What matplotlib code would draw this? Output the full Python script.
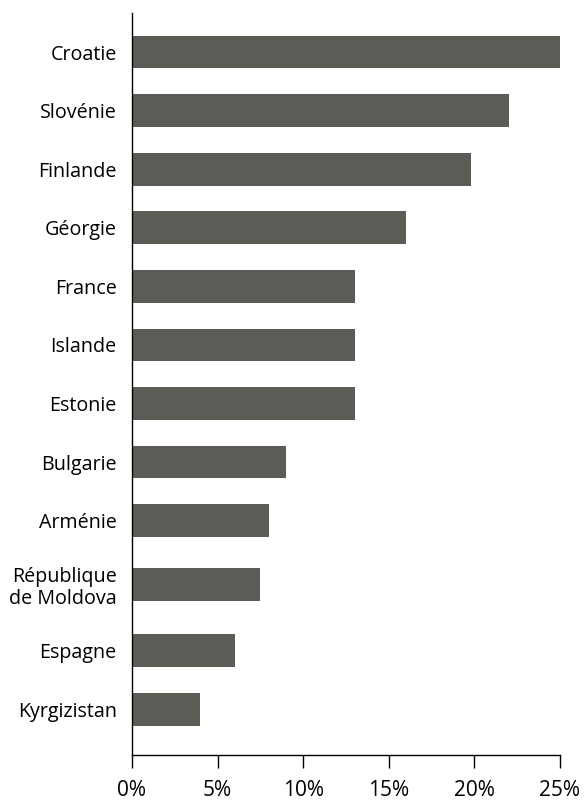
#!/usr/bin/env python3

import matplotlib
matplotlib.use('Agg')
import matplotlib.pyplot as plt
from matplotlib.ticker import FuncFormatter

countries = ['Croatie', 'Slovénie', 'Finlande', 'Géorgie', 'France', 'Islande',
             'Estonie', 'Bulgarie', 'Arménie', 'République\nde Moldova',
             'Espagne', 'Kyrgizistan']
values = [25, 22, 19.8, 16, 13, 13, 13, 9, 8, 7.5, 6, 4]
xticks = [0, 5, 10, 15, 20, 25]

# the two-line label gets a little more room than the other rows
row_gaps = [1, 1, 1, 1, 1, 1, 1, 1, 1.09, 1.13, 1.01]

plt.rcParams['font.family'] = ['Open Sans', 'DejaVu Sans']

fig = plt.figure(figsize=(5.84, 8.0), dpi=100)
ax = fig.add_axes([132 / 584, 45 / 800, 428 / 584, 742 / 800])

pos = [0]
for g in row_gaps:
    pos.append(pos[-1] + g)
ax.barh(pos, values, height=0.56, color='#5c5c57')

ax.set_ylim(12.0, -0.666)
ax.set_xlim(0, 25)
ax.set_yticks(pos)
ax.set_yticklabels(countries, fontsize=14.2, linespacing=1.15)
ax.tick_params(axis='y', length=0, pad=11)

ax.set_xticks(xticks)
ax.xaxis.set_major_formatter(FuncFormatter(lambda v, p: '{:.0f}%'.format(v)))
ax.tick_params(axis='x', direction='out', length=9, width=1, labelsize=15, pad=9)

ax.spines['right'].set_visible(False)
ax.spines['top'].set_visible(False)
for s in ('left', 'bottom'):
    ax.spines[s].set_linewidth(1)
    ax.spines[s].set_color('black')

fig.savefig('out.png', dpi=100)
